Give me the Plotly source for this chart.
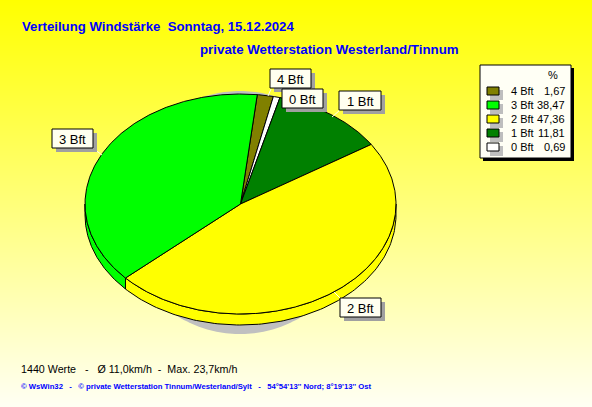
import numpy as np
import plotly.graph_objects as go

categories = ["4 Bft", "3 Bft", "2 Bft", "1 Bft", "0 Bft"]
percent = [1.67, 38.47, 47.36, 11.81, 0.69]
percent_text = ["1,67", "38,47", "47,36", "11,81", "0,69"]
colors = ["#808000", "#00FF00", "#FFFF00", "#008000", "#FFFFFF"]
clockwise = ["4 Bft", "0 Bft", "1 Bft", "2 Bft", "3 Bft"]

W, H = 592, 407
CX, CY, RX, RY, DEPTH = 240.5, 204, 155.5, 110, 11
START = 6.2
FONT = "Liberation Sans"
INK = "#0000FF"

def ell(t, dy=0):
    r = np.radians(t)
    return CX + RX * np.sin(r), CY + dy - RY * np.cos(r)

traces = [go.Heatmap(x=[0, W], y=[0, H], z=[[0, 0], [1, 1]], zsmooth="best", showscale=False,
                     colorscale=[[0, "#FFFF00"], [1, "#FFFFF4"]], hoverinfo="skip")]

# cast shadow
t = np.linspace(0, 360, 240)
traces.append(go.Scatter(x=240 + 120 * np.sin(np.radians(t)), y=212.5 - 121.5 * np.cos(np.radians(t)),
                         fill="toself", fillcolor="#C0C0C0", mode="none", hoverinfo="skip"))

color_of = dict(zip(categories, colors))
value_of = dict(zip(categories, percent))
angle = START
spans = {}
for name in clockwise:
    spans[name] = (angle, angle + value_of[name] * 3.6)
    angle = spans[name][1]

# side wall (front half of the disc)
for name in clockwise:
    a, b = spans[name]
    lo, hi = max(a, 90), min(b, 270)
    if lo >= hi:
        continue
    t = np.linspace(lo, hi, 120)
    x1, y1 = ell(t)
    x2, y2 = ell(t[::-1], DEPTH)
    traces.append(go.Scatter(x=np.r_[x1, x2, x1[0]], y=np.r_[y1, y2, y1[0]], fill="toself",
                             fillcolor=color_of[name], mode="lines",
                             line=dict(color="#000000", width=1), hoverinfo="skip"))

# top face
for name in clockwise:
    a, b = spans[name]
    t = np.linspace(a, b, max(8, int(b - a) * 2))
    x, y = ell(t)
    traces.append(go.Scatter(x=np.r_[CX, x, CX], y=np.r_[CY, y, CY], fill="toself",
                             fillcolor=color_of[name], mode="lines",
                             line=dict(color="#000000", width=1), name=name, hoverinfo="name"))

fig = go.Figure(traces)
shapes, ann = [], []

def text(x, y, s, size=12, color="#000000", anchor="left", bold=False, family=FONT):
    ann.append(dict(x=x, y=y, text=f"<b>{s}</b>" if bold else s, showarrow=False, xanchor=anchor, yanchor="middle",
                    font=dict(family=family, size=size, color=color), xref="x", yref="y", borderpad=0))

def rect(x0, y0, x1, y1, fill, line=None):
    shapes.append(dict(type="rect", x0=x0, y0=y0, x1=x1, y1=y1, fillcolor=fill, layer="above",
                       line=dict(color=line or fill, width=1 if line else 0)))

label_boxes = {"4 Bft": (270, 69, 311, 88), "0 Bft": (282, 89, 323, 108), "1 Bft": (339, 91, 381, 110),
               "3 Bft": (52, 129, 93, 148), "2 Bft": (340, 298, 381, 317)}
leaders = {"4 Bft": (271, 89, 268, 96), "1 Bft": (340, 110, 332, 117), "2 Bft": (340, 298, 334, 292),
           "3 Bft": (94, 149, 102, 155)}
for name, (x0, y0, x1, y1) in leaders.items():
    shapes.append(dict(type="line", x0=x0, y0=y0, x1=x1, y1=y1, layer="above", line=dict(color="#FFFFE8", width=1)))
for name in ["4 Bft", "1 Bft", "3 Bft", "2 Bft", "0 Bft"]:
    x0, y0, x1, y1 = label_boxes[name]
    rect(x0 + 4, y0 + 4, x1 + 4, y1 + 4, "#A0A0A0")
    rect(x0, y0, x1, y1, "#FFFFF0", "#000000")
    text((x0 + x1) / 2, (y0 + y1) / 2 + 0.5, name, size=13, anchor="center")

# legend
rect(483, 68, 574, 161, "#000000")
rect(480, 65, 571, 158, "#FFFFF5", "#000000")
text(553, 75, "%", size=11, anchor="center")
for i, name in enumerate(categories):
    y = 91 + 14 * i
    rect(490, y - 1, 503, y + 9, "#BEBEBE")
    rect(487, y - 4, 499, y + 4, colors[i], "#000000")
    text(510, y, name, size=11)
    text(566, y, percent_text[i], size=11, anchor="right")

text(21, 26, "Verteilung Windstärke\u00a0\u00a0Sonntag, 15.12.2024", size=13.2, color=INK, bold=True)
text(198.5, 49, "private Wetterstation Westerland/Tinnum", size=13.3, color=INK, bold=True)
text(19.5, 369, "1440 Werte\u00a0\u00a0\u00a0-\u00a0\u00a0\u00a0Ø 11,0km/h\u00a0\u00a0-\u00a0\u00a0Max. 23,7km/h", size=10.7)
text(20, 386, "© WsWin32\u00a0\u00a0\u00a0-\u00a0\u00a0\u00a0© private Wetterstation Tinnum/Westerland/Sylt\u00a0\u00a0\u00a0-\u00a0\u00a0\u00a054°54'13'' Nord; 8°19'13'' Ost",
     size=7.7, color=INK, bold=True, family="Liberation Sans")

fig.update_layout(width=W, height=H, margin=dict(l=0, r=0, t=0, b=0), autosize=False, showlegend=False,
                  paper_bgcolor="#FFFFF4", plot_bgcolor="rgba(0,0,0,0)", shapes=shapes, annotations=ann,
                  xaxis=dict(range=[0, W], visible=False, fixedrange=True),
                  yaxis=dict(range=[H, 0], visible=False, fixedrange=True))
fig.write_html("out.html", config=dict(displayModeBar=False),
               post_script="document.body.style.margin='0';document.body.style.overflow='hidden';")
